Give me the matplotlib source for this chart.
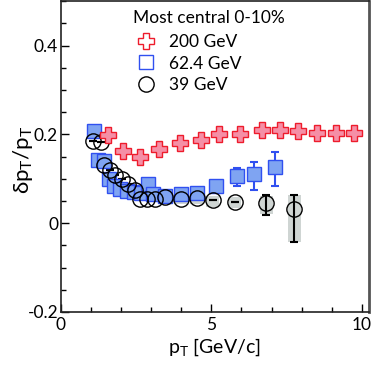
import matplotlib
matplotlib.use("Agg")
import matplotlib.pyplot as plt
from matplotlib.lines import Line2D
from matplotlib.patches import Rectangle
from matplotlib.ticker import MultipleLocator

plt.rcParams['font.family'] = ['Lato', 'DejaVu Sans']
plt.rcParams['mathtext.default'] = 'regular'

# 200 GeV
pt_200 = [1.57, 2.07, 2.62, 3.26, 3.95, 4.64, 5.26, 5.95, 6.67, 7.28, 7.88, 8.51, 9.13, 9.73]
dpt_200 = [0.199, 0.162, 0.149, 0.167, 0.181, 0.188, 0.200, 0.201, 0.209, 0.209, 0.207, 0.203, 0.203, 0.203]

# 62.4 GeV
pt_62 = [1.10, 1.22, 1.45, 1.60, 1.76, 1.98, 2.20, 2.43, 2.66, 2.90, 3.05, 3.46, 3.98, 4.53, 5.15, 5.84, 6.41, 7.11]
dpt_62 = [0.208, 0.143, 0.140, 0.100, 0.083, 0.077, 0.073, 0.070, 0.067, 0.088, 0.065, 0.062, 0.065, 0.068, 0.084, 0.105, 0.110, 0.126]
err_62_lo = [0, 0, 0, 0, 0, 0, 0, 0, 0, 0, 0, 0, 0, 0, 0, 0.021, 0.036, 0.043]
err_62_hi = [0, 0, 0, 0, 0, 0, 0, 0, 0, 0, 0, 0, 0, 0, 0, 0.018, 0.027, 0.034]

# 39 GeV
pt_39 = [1.08, 1.35, 1.43, 1.63, 1.79, 2.02, 2.24, 2.46, 2.62, 2.87, 3.12, 3.46, 3.98, 4.51, 5.04, 5.78, 6.83, 7.76]
dpt_39 = [0.185, 0.183, 0.130, 0.119, 0.108, 0.100, 0.089, 0.074, 0.055, 0.054, 0.054, 0.058, 0.054, 0.057, 0.053, 0.048, 0.045, 0.031]
err_39_lo = [0, 0, 0, 0, 0, 0, 0, 0, 0, 0, 0, 0, 0, 0, 0, 0, 0.026, 0.073]
err_39_hi = [0, 0, 0, 0, 0, 0, 0, 0, 0, 0, 0, 0, 0, 0, 0, 0, 0.018, 0.033]
sys_39_lo = [0, 0, 0, 0, 0, 0, 0, 0, 0, 0, 0, 0.012, 0.012, 0.015, 0.016, 0.015, 0.025, 0.073]
sys_39_hi = [0, 0, 0, 0, 0, 0, 0, 0, 0, 0, 0, 0.003, 0.003, 0.003, 0.008, 0.010, 0.016, 0.032]

fig = plt.figure(figsize=(3.71, 3.70), dpi=100)
ax = fig.add_axes([0.164, 0.157, 0.830, 0.840])

red_e, red_f = '#ee1c2c', '#f58fa6'
blue_e, blue_f = '#3050f0', '#7fa4f2'
grey_f = '#cfd5d3'

# systematic boxes for 39 GeV
for x, y, lo, hi in zip(pt_39, dpt_39, sys_39_lo, sys_39_hi):
    if lo + hi > 0:
        w = 0.42
        ax.add_patch(Rectangle((x - w / 2, y - lo), w, lo + hi, color=grey_f, lw=0, zorder=1))

# 200 GeV
ax.plot(pt_200, dpt_200, ls='none', marker='P', ms=12, mfc=red_f, mec=red_e, mew=1.0, zorder=4)

# 62.4 GeV
ax.errorbar(pt_62, dpt_62, yerr=[err_62_lo, err_62_hi], ls='none', ecolor=blue_e,
            elinewidth=1.5, capsize=3, capthick=1.5, zorder=2)
ax.plot(pt_62, dpt_62, ls='none', marker='s', ms=10, mfc=blue_f, mec=blue_e, mew=1.0, zorder=3)

# 39 GeV
ax.errorbar(pt_39, dpt_39, yerr=[err_39_lo, err_39_hi], ls='none', ecolor='black',
            elinewidth=1.5, capsize=3, capthick=1.5, zorder=2)
ax.plot(pt_39, dpt_39, ls='none', marker='o', ms=11, mfc='none', mec='black', mew=1.0, zorder=3)

ax.set_xlim(0, 10.23)
ax.set_ylim(-0.2, 0.5)
ax.xaxis.set_minor_locator(MultipleLocator(1))
ax.yaxis.set_minor_locator(MultipleLocator(0.05))
ax.set_xticks([0, 5, 10])
ax.set_xticklabels(['0', '5', '10'])
ax.set_yticks([-0.2, 0, 0.2, 0.4])
ax.set_yticklabels(['-0.2', '0', '0.2', '0.4'])
ax.tick_params(which='both', direction='in', top=False, right=False, labelsize=12.5)
ax.tick_params(axis='x', pad=3.5)
ax.tick_params(axis='y', pad=2)
ax.tick_params(which='major', length=6, width=1)
ax.tick_params(which='minor', length=3.5, width=1)

for s in ax.spines.values():
    s.set_color('#222222')
    s.set_linewidth(1.2)
ax.spines['right'].set_color('#555555')
ax.spines['right'].set_linewidth(2)

ax.set_xlabel('p$_{T}$ [GeV/c]', fontsize=14, labelpad=3)
ax.set_ylabel('$\\delta$p$_{T}$/p$_{T}$', fontsize=16)
ax.yaxis.set_label_coords(-0.085, 0.49)

ax.text(0.234, 0.946, 'Most central 0-10%', transform=ax.transAxes,
        ha='left', va='center', fontsize=12.5)

handles = [
    Line2D([], [], ls='none', marker='P', ms=11, mfc='white', mec=red_e, mew=1.0),
    Line2D([], [], ls='none', marker='s', ms=10, mfc='white', mec=blue_e, mew=1.0),
    Line2D([], [], ls='none', marker='o', ms=11, mfc='white', mec='black', mew=1.0),
]
leg = ax.legend(handles, ['200 GeV', '62.4 GeV', '39 GeV'],
                loc='upper left', bbox_to_anchor=(0.238, 0.893), frameon=False,
                fontsize=12.5, handlelength=1.4, handletextpad=0.6, labelspacing=0.3,
                borderaxespad=0.0, borderpad=0.0)

fig.savefig('out.png', dpi=100)
